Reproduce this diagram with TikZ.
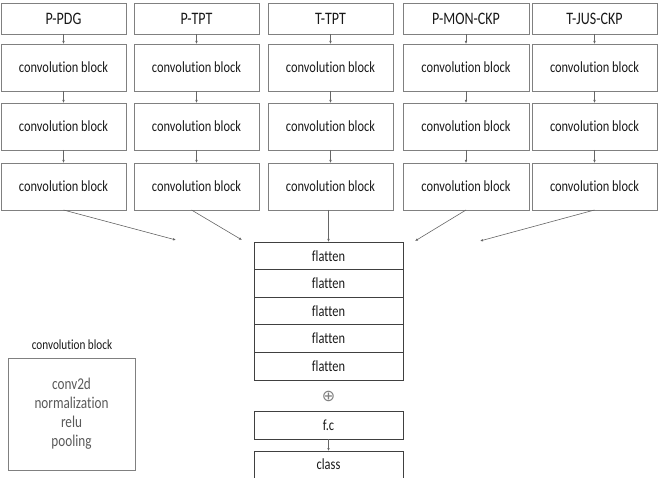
\documentclass[tikz,border=0pt]{standalone}
\usepackage{fontspec}
\setmainfont{Carlito}[FakeStretch=0.8, Ligatures=NoCommon]
\newfontfamily\symfont{DejaVu Sans}
\usetikzlibrary{arrows.meta}
\begin{document}
\begin{tikzpicture}[x=1pt,y=-1pt,
  box/.style={draw=black!50, line width=0.8pt, inner sep=0pt, outer sep=0pt,
    text=black!90, font=\fontsize{15.5}{18}\selectfont},
  flat/.style={box, draw=black!75, minimum width=149pt, minimum height=27.6pt},
  arr/.style={draw=black!60, line width=0.6pt, -{Latex[length=3pt,width=2.6pt]}},
]
\useasboundingbox (0,0) rectangle (659,478);

% columns
\foreach \n/\cx/\w/\t in {1/63.5/125/P-PDG, 2/196.5/125/P-TPT, 3/330.5/125/T-TPT, 4/466/126/P-MON-CKP, 5/594.5/125/T-JUS-CKP}{
  \node[box, font=\fontsize{17.5}{19}\selectfont, minimum width=\w pt, minimum height=31pt] (h\n) at (\cx,18.5) {\t};
  \node[box, minimum width=\w pt, minimum height=47pt] (a\n) at (\cx,67.5) {convolution block};
  \node[box, minimum width=\w pt, minimum height=47pt] (b\n) at (\cx,126.5) {convolution block};
  \node[box, minimum width=\w pt, minimum height=47pt] (c\n) at (\cx,186.5) {convolution block};
  \draw[arr] (h\n) -- (a\n);
  \draw[arr] (a\n) -- (b\n);
  \draw[arr] (b\n) -- (c\n);
}

% flatten stack
\node[flat] (f1) at (328.5,255.8) {flatten};
\node[flat] (f2) at (328.5,283.4) {flatten};
\node[flat] (f3) at (328.5,311.0) {flatten};
\node[flat] (f4) at (328.5,338.6) {flatten};
\node[flat] (f5) at (328.5,366.2) {flatten};

\node[text=black!50, font=\symfont\fontsize{16}{17}\selectfont, inner sep=0pt] (plus) at (328.5,396) {⊕};

\node[box, draw=black!75, minimum width=149pt, minimum height=28pt] (fc) at (328.5,425) {f.c};
\node[box, draw=black!75, minimum width=149pt, minimum height=27pt] (cls) at (328.5,464.5) {class};
\draw[arr] (fc) -- (cls);

% connectors from the columns
\coordinate (e1) at (176,240);
\coordinate (e2) at (242,240);
\coordinate (e4) at (415,241);
\coordinate (e5) at (480,241);
\draw[arr] (c1.south) -- (e1);
\draw[arr] ([xshift=-5pt]c2.south) -- (e2);
\draw[arr] (c3.south -| f1.north) -- (f1.north);
\draw[arr] (c4.south) -- (e4);
\draw[arr] (c5.south) -- (e5);

% legend
\node[text=black!90, font=\fontsize{14}{16}\selectfont, inner sep=0pt] (legtitle) at (72,345) {convolution block};
\node[draw=black!50, line width=0.8pt, minimum width=127pt, minimum height=112pt, inner sep=0pt,
  align=center, text=black!65, font=\fontsize{16.5}{19}\selectfont] (leg) at (71.5,414)
  {conv2d\\normalization\\relu\\pooling};
\end{tikzpicture}
\end{document}
